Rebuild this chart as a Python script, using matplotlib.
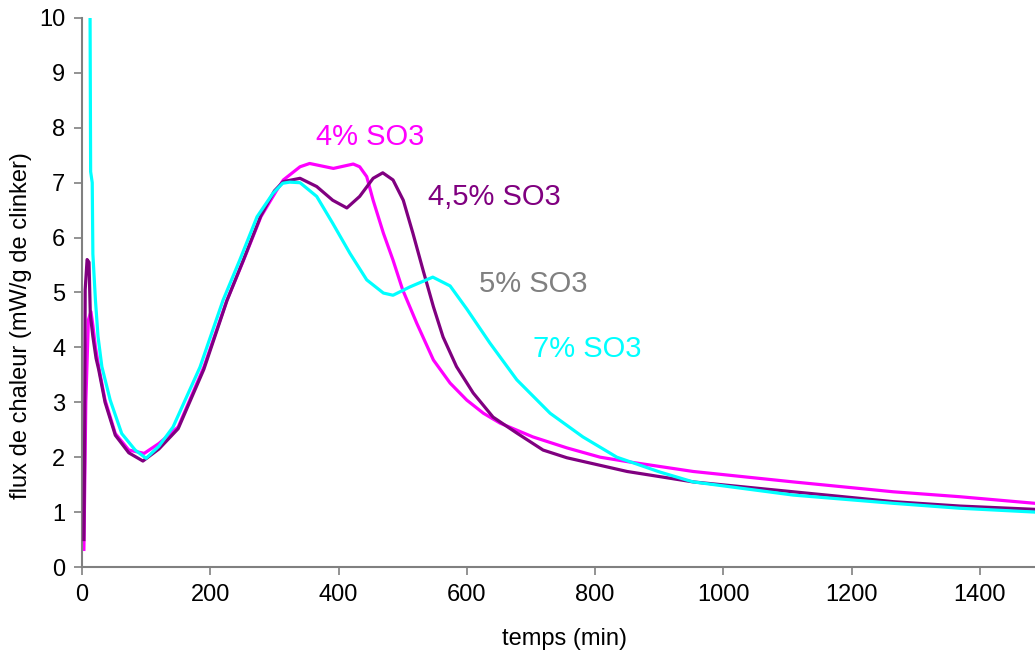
import matplotlib
matplotlib.use("Agg")
import matplotlib.pyplot as plt

plt.rcParams['font.family'] = ['Liberation Sans', 'DejaVu Sans']

# 4% SO3 (magenta)
x_4 = [3, 6, 10, 14, 17, 21, 26, 36, 52, 73, 97, 120, 150, 190, 226, 252, 279, 303, 314, 340, 355,
       392, 423, 433, 444, 454, 470, 485, 500, 522, 548, 574, 600, 626, 652, 703, 756, 808, 850,
       953, 1109, 1265, 1369, 1486]
y_4 = [0.32, 3.0, 4.5, 4.65, 4.4, 4.0, 3.65, 3.04, 2.43, 2.13, 2.07, 2.25, 2.55, 3.64, 4.86, 5.59,
       6.38, 6.85, 7.05, 7.29, 7.35, 7.26, 7.34, 7.29, 7.11, 6.68, 6.08, 5.59, 5.05, 4.44, 3.77,
       3.35, 3.04, 2.80, 2.62, 2.37, 2.17, 2.0, 1.92, 1.74, 1.55, 1.37, 1.28, 1.16]

# 4,5% SO3 (purple)
x_45 = [3, 4, 5, 8, 11, 13, 17, 22, 26, 36, 52, 73, 95, 120, 150, 190, 226, 252, 279, 300, 314,
        340, 366, 391, 413, 433, 454, 469, 485, 501, 516, 532, 548, 563, 584, 610, 641, 678, 719,
        756, 850, 953, 1109, 1265, 1369, 1486]
y_45 = [0.5, 1.9, 5.05, 5.6, 5.55, 4.6, 4.2, 3.8, 3.6, 3.0, 2.4, 2.08, 1.93, 2.15, 2.52, 3.6, 4.85,
        5.6, 6.4, 6.85, 7.02, 7.08, 6.93, 6.68, 6.54, 6.75, 7.08, 7.18, 7.05, 6.68, 6.08, 5.4, 4.74,
        4.19, 3.65, 3.17, 2.73, 2.44, 2.13, 1.99, 1.74, 1.55, 1.37, 1.19, 1.11, 1.05]

# 7% SO3 (cyan)
x_7 = [12, 13.5, 16, 17, 21, 25, 31, 44, 62, 83, 100, 120, 142, 184, 220, 246, 273, 298, 313, 324,
       340, 366, 391, 418, 444, 470, 485, 511, 547, 574, 600, 636, 678, 730, 781, 834, 901,
       953, 1109, 1265, 1369, 1486]
y_7 = [12.0, 7.2, 7.0, 5.7, 4.86, 4.2, 3.65, 3.04, 2.43, 2.13, 1.98, 2.2, 2.55, 3.64, 4.86, 5.59,
       6.38, 6.81, 6.99, 7.01, 7.0, 6.75, 6.26, 5.71, 5.23, 4.99, 4.95, 5.1, 5.28, 5.12, 4.7, 4.08,
       3.41, 2.80, 2.37, 2.0, 1.73, 1.55, 1.31, 1.16, 1.07, 1.0]

x_ticks = [0, 200, 400, 600, 800, 1000, 1200, 1400]
y_ticks = [0, 1, 2, 3, 4, 5, 6, 7, 8, 9, 10]

labels = ["4% SO3", "4,5% SO3", "5% SO3", "7% SO3"]
label_x = [365, 539, 619, 703]
label_y = [7.69, 6.59, 5.01, 3.83]
label_colors = ["#FF00FF", "#800080", "#808080", "#00FFFF"]

fig = plt.figure(figsize=(10.35, 6.59), dpi=100)
ax = fig.add_axes([0.0792, 0.1396, 1.0 - 0.0792, 0.9727 - 0.1396])

lw = 2.3
ax.plot(x_4, y_4, color="#FF00FF", lw=lw, zorder=2)
ax.plot(x_45, y_45, color="#800080", lw=lw, zorder=3)
ax.plot(x_7, y_7, color="#00FFFF", lw=lw, zorder=4)

for t, xx, yy, c in zip(labels, label_x, label_y, label_colors):
    ax.text(xx, yy, t, color=c, fontsize=21, ha='left', va='baseline')

ax.set_xlim(0, 1486)
ax.set_ylim(0, 10)
ax.set_xticks(x_ticks)
ax.set_yticks(y_ticks)
ax.tick_params(axis='both', direction='out', length=6, width=1.2, color='#808080',
               labelsize=17, pad=6)
for s in ['top', 'right']:
    ax.spines[s].set_visible(False)
for s in ['left', 'bottom']:
    ax.spines[s].set_color('#808080')
    ax.spines[s].set_linewidth(1.5)

ax.set_xlabel("temps (min)", fontsize=17)
ax.set_ylabel("flux de chaleur (mW/g de clinker)", fontsize=17)
ax.xaxis.set_label_coords(0.506, -0.112)
ax.yaxis.set_label_coords(-0.052, 0.44)

fig.savefig("out.png", dpi=100)
